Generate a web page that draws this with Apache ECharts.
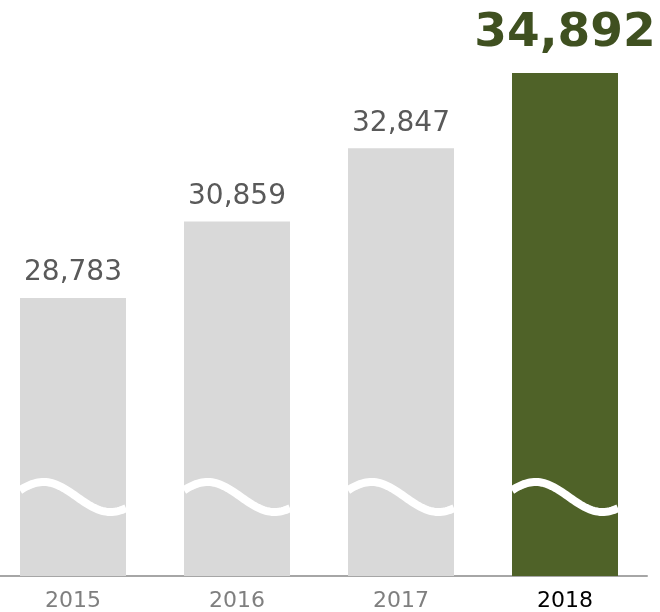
<!DOCTYPE html>
<html>
<head>
<meta charset="utf-8">
<script src="https://cdn.jsdelivr.net/npm/echarts@6/dist/echarts.min.js"></script>
<style>
  html, body { margin: 0; padding: 0; background: #fff; overflow: hidden; }
  /* shifted left a little so the first bar sits where the original does */
  #chart { position: absolute; left: -9px; top: 0; width: 669px; height: 612px; }
</style>
</head>
<body>
<div id="chart"></div>
<script>
  // data
  var years = ['2015', '2016', '2017', '2018']
  var totals = [28783, 30859, 32847, 34892]

  var gray = '#d9d9d9'
  var green = '#4f6228'
  var breakValue = 23380 // where the axis-break wave sits

  var chart = echarts.init(document.getElementById('chart'))

  var last = years.length - 1

  var option = {
    animation: false,
    grid: {
      left: 0,
      right: 13,
      top: 73,
      bottom: 36
    },
    xAxis: {
      type: 'category',
      data: years.map(function (y, i) {
        return {
          value: y,
          textStyle: { color: i === last ? '#000' : '#7f7f7f' }
        }
      }),
      axisLine: { lineStyle: { color: '#a6a6a6', width: 2 } },
      axisTick: { show: false },
      axisLabel: {
        fontFamily: 'DejaVu Sans',
        fontSize: 22,
        margin: 14
      }
    },
    yAxis: {
      type: 'value',
      min: 21235,
      max: 34892,
      show: false,
      splitLine: { show: false }
    },
    series: [{
      type: 'bar',
      barWidth: 106,
      data: totals.map(function (v, i) {
        var isLast = i === last
        return {
          value: v,
          itemStyle: { color: isLast ? green : gray },
          label: isLast ? {
            fontSize: 47,
            fontWeight: 'bold',
            color: '#3f5020',
            distance: 16
          } : {}
        }
      }),
      label: {
        show: true,
        position: 'top',
        distance: 11,
        fontFamily: 'DejaVu Sans',
        fontSize: 28,
        color: '#595959',
        formatter: function (p) {
          return p.value.toLocaleString('en-US')
        }
      }
    }, {
      // white wave marking the broken axis
      type: 'custom',
      silent: true,
      z: 5,
      data: years.map(function (y, i) { return [i, breakValue] }),
      renderItem: function (params, api) {
        var c = api.coord([api.value(0), api.value(1)])
        var w = 106
        var pts = []
        for (var t = 0; t <= w; t += 2) {
          pts.push([c[0] - w / 2 + t, c[1] - 15 * Math.sin(2 * Math.PI * (t + 10) / 134)])
        }
        return {
          type: 'polyline',
          shape: { points: pts, smooth: 0 },
          style: { stroke: '#fff', lineWidth: 8, fill: null }
        }
      }
    }]
  }

  chart.setOption(option)
</script>
</body>
</html>
